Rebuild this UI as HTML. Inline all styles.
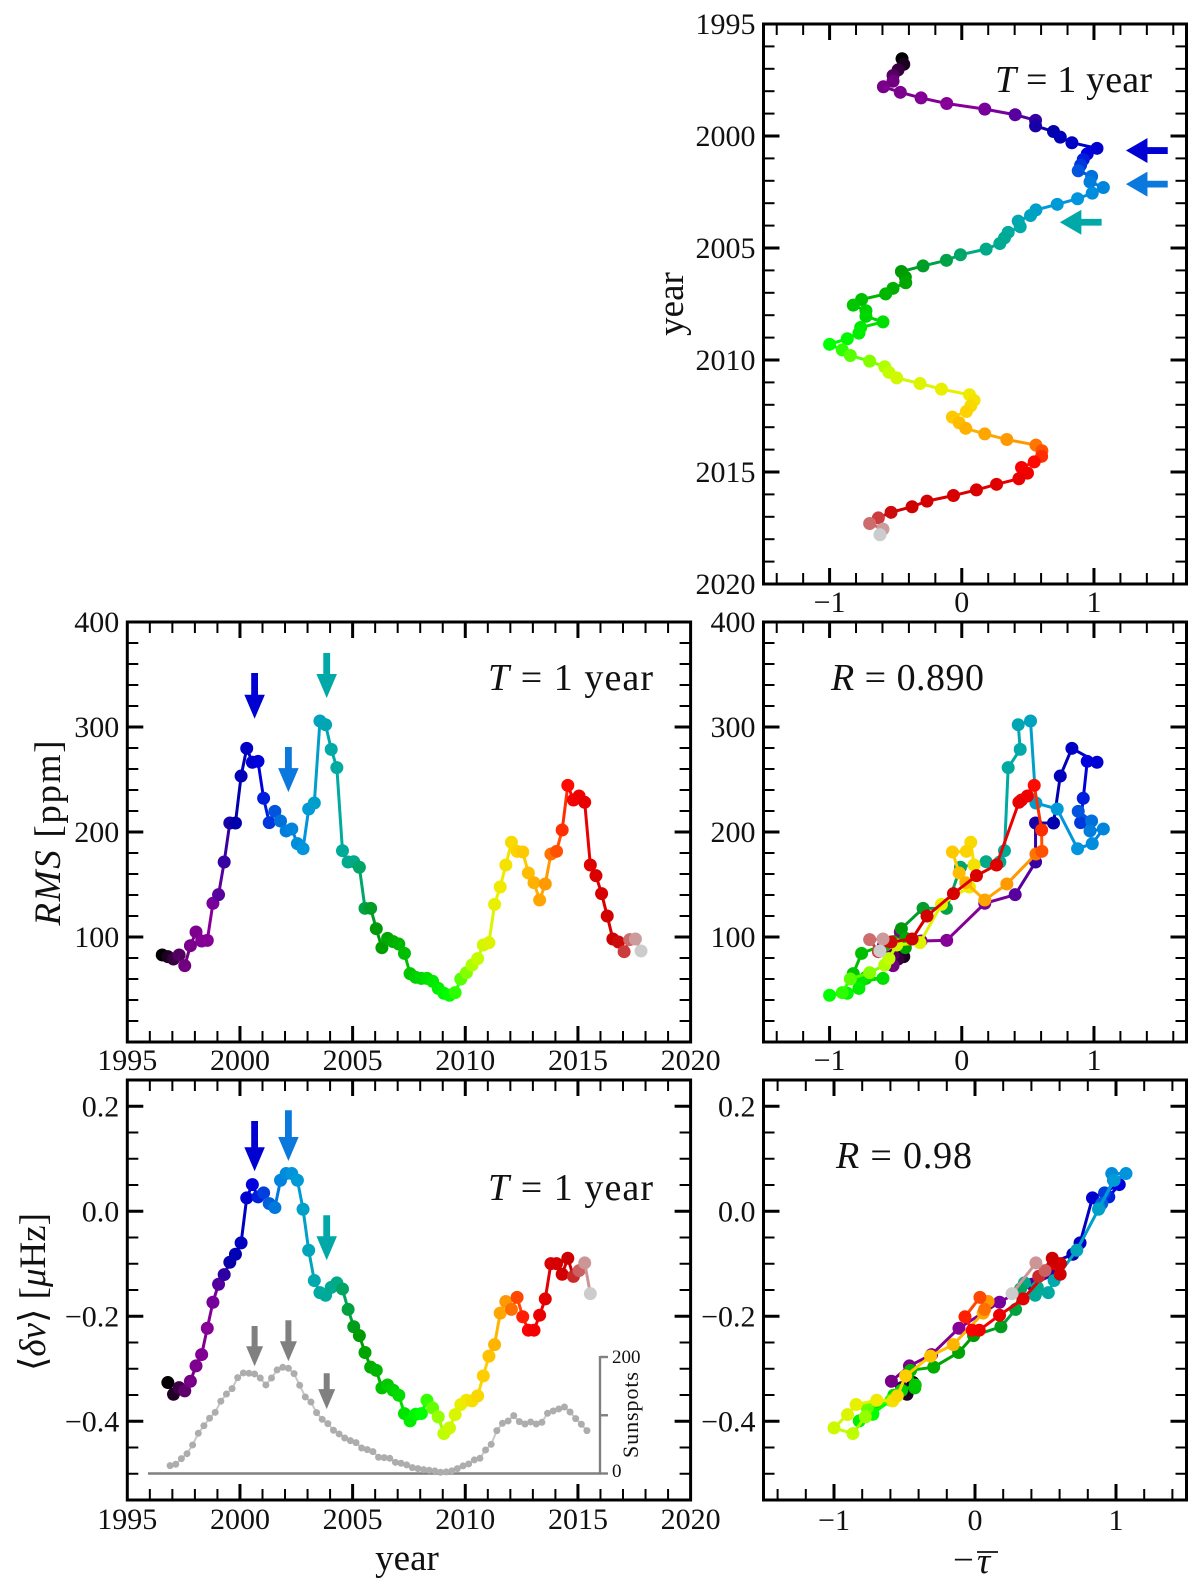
<!DOCTYPE html>
<html lang="en">
<head>
<meta charset="utf-8">
<title>Solar activity proxies versus year</title>
<style>
html,body{margin:0;padding:0;background:#fff;}
svg{display:block;}
text{font-family:"Liberation Serif","DejaVu Serif",serif;fill:#111;}
.tick{font-size:30px;}
.note{font-size:38px;}
.title{font-size:37px;}
.small{font-size:19px;}
</style>
</head>
<body>
<svg id="chart" xmlns="http://www.w3.org/2000/svg" width="1200" height="1591" viewBox="0 0 1200 1591">
  <rect x="0" y="0" width="1200" height="1591" fill="#ffffff"/>
  <g id="panel-tau-year"></g>
  <g id="panel-rms-year"></g>
  <g id="panel-rms-tau"></g>
  <g id="panel-nu-year"></g>
  <g id="panel-nu-tau"></g>

  <text class="title" text-anchor="middle" transform="translate(683,304) rotate(-90)">year</text>
  <text class="title" text-anchor="middle" textLength="185" transform="translate(60,833) rotate(-90)"><tspan font-style="italic">RMS</tspan> [ppm]</text>
  <text class="title" text-anchor="middle" textLength="158" transform="translate(45,1292) rotate(-90)">⟨<tspan font-style="italic">δν</tspan>⟩ [<tspan font-style="italic">μ</tspan>Hz]</text>
  <text class="title" text-anchor="middle" x="407" y="1570">year</text>
  <text class="title" x="953" y="1572">−</text>
  <text class="title" x="977" y="1573" font-style="italic">τ</text>
  <line x1="977" x2="998" y1="1552" y2="1552" stroke="#111" stroke-width="1.8"/>

  <text class="note" x="995" y="92" textLength="157"><tspan font-style="italic">T</tspan> = 1 year</text>
  <text class="note" x="488" y="690" textLength="165"><tspan font-style="italic">T</tspan> = 1 year</text>
  <text class="note" x="488" y="1200" textLength="165"><tspan font-style="italic">T</tspan> = 1 year</text>
  <text class="note" x="831" y="690" textLength="153"><tspan font-style="italic">R</tspan> = 0.890</text>
  <text class="note" x="836" y="1168" textLength="136"><tspan font-style="italic">R</tspan> = 0.98</text>

  <text class="small" x="612" y="1363">200</text>
  <text class="small" x="612" y="1477">0</text>
  <text class="small" text-anchor="middle" textLength="86" style="font-size:22px" transform="translate(638,1415) rotate(-90)">Sunspots</text>
</svg>
<script>
// ---- data ----
const seismicStartYear = 1996.55;
const frequencyStartYear = 1996.8;
const sunspotStartYear = 1996.9;
const sampleStep = 0.25;

const rmsValues = [82.9,81.3,79.0,82.9,72.7,91.7,104.8,96.2,96.8,132.1,140.3,171.4,208.6,208.6,253.3,279.7,266.4,267.3,232.1,208.9,219.7,210.5,201,202.9,188.9,184.1,221.9,227.6,305.7,302.2,278.7,261.3,182.2,171.4,171.7,166.4,127.3,127.3,107.9,89.8,98.7,95.6,93.3,84.4,65.1,61.6,60.6,60.6,57.8,51.1,46.4,44.5,47,60,66,73.3,79.4,92.4,94.6,131.1,147.6,168.6,190.2,181.6,181,161,151.7,135.2,150.5,179,181.6,201.9,244.4,230.5,234.3,228.3,168.6,158.4,141.3,120,98.1,95.2,86,97.5,98.1,86.7];

const tauValues = [-0.452,-0.439,-0.482,-0.52,-0.52,-0.593,-0.465,-0.308,-0.114,0.174,0.404,0.558,0.558,0.694,0.745,0.833,1.023,0.949,0.919,0.899,0.881,0.982,0.97,1.071,0.987,0.876,0.722,0.561,0.52,0.427,0.442,0.351,0.323,0.288,0.184,-0.01,-0.116,-0.293,-0.457,-0.427,-0.424,-0.52,-0.576,-0.758,-0.821,-0.725,-0.725,-0.596,-0.765,-0.778,-0.866,-1.0,-0.904,-0.843,-0.697,-0.583,-0.551,-0.492,-0.316,-0.154,0.058,0.093,0.068,0.035,-0.071,-0.02,0.03,0.174,0.341,0.561,0.606,0.604,0.548,0.452,0.497,0.432,0.263,0.111,-0.063,-0.263,-0.376,-0.535,-0.631,-0.697,-0.596,-0.619];

const frequencyShiftValues = [-0.3263,-0.3486,-0.3359,-0.3422,-0.3238,-0.2946,-0.273,-0.2228,-0.1733,-0.139,-0.1206,-0.0971,-0.0819,-0.0603,0.0254,0.0508,0.0273,0.035,0.0146,0.007,0.059,0.0718,0.0718,0.059,0.0038,-0.0743,-0.132,-0.155,-0.16,-0.145,-0.1365,-0.148,-0.187,-0.22,-0.237,-0.269,-0.297,-0.303,-0.3365,-0.331,-0.341,-0.3505,-0.3854,-0.3994,-0.3867,-0.3854,-0.36,-0.3746,-0.3917,-0.4235,-0.4127,-0.3873,-0.3682,-0.36,-0.3613,-0.3517,-0.3136,-0.276,-0.254,-0.194,-0.172,-0.187,-0.164,-0.201,-0.2266,-0.2266,-0.198,-0.167,-0.0997,-0.0997,-0.12,-0.0895,-0.124,-0.113,-0.0984,-0.157];

const sunspotValues = [13.5,15.8,25.5,34,49,69,82,94.8,105,124,136.5,145.7,164.6,172.6,172,170.9,164,152,164,177.8,182.3,180.6,171.4,151.4,131.4,122.8,104.5,93,85.6,74.2,67.9,61,56.4,53,43.8,41,37.6,27.8,27.3,26.1,19.2,17.5,14.7,10.1,8.4,6.7,5.5,4.4,2.1,2.7,4.4,8.4,13,16.4,23.3,26.1,40.4,50.1,73.6,86.2,90.2,99.4,89,85,88.5,85,87.9,103.4,107.4,110.8,114.2,105.6,94.2,84.5,73.6];

const eventYears = [2000.65,2002.15,2003.85];
const eventNames = ['first-peak','second-peak','third-peak'];
const rmsArrowTails = [351.4,281,370.5];
const rmsArrowTips = [307.9,238,327.6];
const nuArrowTails = [0.172,0.1924,-0.0076];
const nuArrowTips = [0.0762,0.0958,-0.0933];
const sunspotArrowTails = [-0.2185,-0.2076,-0.3086];
const sunspotArrowTips = [-0.2952,-0.2857,-0.377];
const tauArrowTips = [1.242,1.242,0.742];
const tauArrowTails = [1.558,1.558,1.058];

const yearTicks = [1995,2000,2005,2010,2015,2020];
const tauTicks = [-1,0,1];
const rmsTicks = [100,200,300,400];
const nuTicks = [-0.4,-0.2,0.0,0.2];

// ---- helpers ----
const NS = 'http://www.w3.org/2000/svg';
function mk(parent, tag, attrs){
  const el = document.createElementNS(NS, tag);
  for (const k in attrs) el.setAttribute(k, attrs[k]);
  parent.appendChild(el);
  return el;
}
function scale(d0,d1,r0,r1){ return v => r0 + (v-d0)*(r1-r0)/(d1-d0); }

const cmR=[0,.4667,.5333,0,0,0,0,0,0,0,0,0,0,.7333,.9333,1,1,1,.8667,.8,.8];
const cmG=[0,0,0,0,0,.4667,.6,.6667,.6667,.6,.7333,.8667,1,1,.9333,.8,.6,0,0,0,.8];
const cmB=[0,.5333,.6,.6667,.8667,.8667,.8667,.6667,.5333,0,0,0,0,0,0,0,0,0,0,0,.8];
function spectral(t){
  const p = Math.min(19.9999, Math.max(0, t*20)), k = Math.floor(p), f = p-k;
  const ch = a => Math.round(255*(a[k]+(a[k+1]-a[k])*f));
  return 'rgb('+ch(cmR)+','+ch(cmG)+','+ch(cmB)+')';
}
function fmtMinus(v, digits){
  const s = Math.abs(v).toFixed(digits);
  return (v<0?'−':'')+s;
}

function drawSeries(g, xs, ys, sx, sy){
  const n = Math.min(xs.length, ys.length);
  for (let i=0;i<n;i++){
    const c = spectral(i/(n-1));
    if (i<n-1){
      const seg = mk(g,'line',{x1:sx(xs[i]),y1:sy(ys[i]),x2:sx(xs[i+1]),y2:sy(ys[i+1]),stroke:c,'stroke-width':3});
      
      
    }
    const dot = mk(g,'circle',{cx:sx(xs[i]),cy:sy(ys[i]),r:6.5,fill:c});
    
    
  }
}

function drawFrame(g, box, sx, sy, opt){
  const {l,r,t,b} = box;
  const addTick = (x1,y1,x2,y2,major) => {
    const tk = mk(g,'line',{x1,y1,x2,y2,stroke:'#000','stroke-width':major?3:2});
    
    
  };
  const eps=1e-6;
  // x ticks
  for (let v=opt.xMinorStart; v<=opt.xMax+eps; v+=opt.xMinorStep){
    const major = opt.xTicks.some(m=>Math.abs(m-v)<1e-4);
    const x = sx(v); if (x<l+2 || x>r-2) continue;
    const len = major?16:11;
    addTick(x,b,x,b-len,major); addTick(x,t,x,t+len,major);
  }
  // y ticks
  for (let v=opt.yMinorStart; v<=opt.yMax+eps; v+=opt.yMinorStep){
    const major = opt.yTicks.some(m=>Math.abs(m-v)<1e-4);
    const y = sy(v); if (y<t+2 || y>b-2) continue;
    const len = major?16:11;
    addTick(l,y,l+len,y,major); addTick(r,y,r-len,y,major);
  }
  // tick labels
  opt.xTicks.forEach(v=>{
    const lab = mk(g,'text',{class:'tick',x:sx(v)+(opt.xLabelShift||0),y:b+(opt.xLabelDrop||28),'text-anchor':'middle'});
    
    
    lab.textContent = fmtMinus(v,0);
  });
  opt.yTicks.forEach(v=>{
    const lab = mk(g,'text',{class:'tick',x:l-8,y:sy(v)+10,'text-anchor':'end'});
    
    
    lab.textContent = fmtMinus(v,opt.yDigits||0);
  });
  // spines
  const frame = mk(g,'rect',{x:l,y:t,width:r-l,height:b-t,fill:'none',stroke:'#000','stroke-width':3});
  
  
}

function downArrow(g, x, yTail, yTip, color, headW, shaftW, headL, name){
  const pts = [[x-shaftW/2,yTail],[x+shaftW/2,yTail],[x+shaftW/2,yTip-headL],[x+headW/2,yTip-headL],[x,yTip],[x-headW/2,yTip-headL],[x-shaftW/2,yTip-headL]];
  const a = mk(g,'polygon',{points:pts.map(p=>p.join(',')).join(' '),fill:color});
  
  
}
function leftArrow(g, xTip, xTail, y, color, name){
  const headL=21.5, headW=25, shaftW=6.8;
  const pts = [[xTail,y-shaftW/2],[xTail,y+shaftW/2],[xTip+headL,y+shaftW/2],[xTip+headL,y+headW/2],[xTip,y],[xTip+headL,y-headW/2],[xTip+headL,y-shaftW/2]];
  const a = mk(g,'polygon',{points:pts.map(p=>p.join(',')).join(' '),fill:color});
  
  
}

// ---- layout ----
const leftCol = {l:127.3,r:690.6};
const rightCol = {l:763.5,r:1186.5};
const rowTop = {t:24,b:584};
const rowMid = {t:622,b:1042};
const rowBot = {t:1080,b:1500};
const arrowColors = ['#0000d2','#0a78dc','#00a8a8'];

const seismicYears = rmsValues.map((_,i)=>seismicStartYear+i*sampleStep);
const frequencyYears = frequencyShiftValues.map((_,i)=>frequencyStartYear+i*sampleStep);
const sunspotYears = sunspotValues.map((_,i)=>sunspotStartYear+i*sampleStep);
const tauForFrequency = frequencyShiftValues.map((_,i)=>tauValues[i+1]);

const yearAxis = {xMinorStart:1995,xMinorStep:1,xMax:2020,xTicks:yearTicks};
const tauAxis = {xMinorStart:-1.4,xMinorStep:0.2,xTicks:tauTicks};
const rmsAxis = {yMinorStart:20,yMinorStep:20,yMax:400,yTicks:rmsTicks};
const nuAxis = {yMinorStart:-0.5,yMinorStep:0.05,yMax:0.25,yTicks:nuTicks,yDigits:1};

// tau vs year
(function(){
  const g = document.getElementById('panel-tau-year');
  const box = {...rightCol,...rowTop};
  const sx = scale(-1.5,1.7,box.l,box.r), sy = scale(1995,2020,box.t,box.b);
  drawSeries(g,tauValues,seismicYears,sx,sy);
  eventYears.forEach((yr,i)=>leftArrow(g,sx(tauArrowTips[i]),sx(tauArrowTails[i]),sy(yr),arrowColors[i],'tau-arrow-'+eventNames[i]));
  drawFrame(g,box,sx,sy,{...tauAxis,xMax:1.7,yMinorStart:1995,yMinorStep:1,yMax:2020,yTicks:yearTicks});
})();

// rms vs year
(function(){
  const g = document.getElementById('panel-rms-year');
  const box = {...leftCol,...rowMid};
  const sx = scale(1995,2020,box.l,box.r), sy = scale(0,400,box.b,box.t);
  drawSeries(g,seismicYears,rmsValues,sx,sy);
  eventYears.forEach((yr,i)=>downArrow(g,sx(yr),sy(rmsArrowTails[i]),sy(rmsArrowTips[i]),arrowColors[i],20.5,6.8,24,'rms-arrow-'+eventNames[i]));
  drawFrame(g,box,sx,sy,{...yearAxis,...rmsAxis});
})();

// rms vs tau
(function(){
  const g = document.getElementById('panel-rms-tau');
  const box = {...rightCol,...rowMid};
  const sx = scale(-1.5,1.7,box.l,box.r), sy = scale(0,400,box.b,box.t);
  drawSeries(g,tauValues,rmsValues,sx,sy);
  drawFrame(g,box,sx,sy,{...tauAxis,xMax:1.7,...rmsAxis});
})();

// frequency shift vs year
(function(){
  const g = document.getElementById('panel-nu-year');
  const box = {...leftCol,...rowBot};
  const sx = scale(1995,2020,box.l,box.r), sy = scale(-0.55,0.25,box.b,box.t);
  // sunspot inset
  const spotY = scale(0,200,1473.5,1357);
  const baseline = mk(g,'line',{x1:148,x2:sx(2015.85)+4,y1:spotY(0),y2:spotY(0),stroke:'#808080','stroke-width':2.4});
  
  
  const spotAxis = mk(g,'line',{x1:600,x2:600,y1:spotY(200)-1,y2:spotY(0),stroke:'#808080','stroke-width':2.4});
  
  
  [0,100,200].forEach(v=>{
    const tk = mk(g,'line',{x1:600,x2:608,y1:spotY(v),y2:spotY(v),stroke:'#808080','stroke-width':2.4});
    
    
  });
  const spotLine = mk(g,'polyline',{points:sunspotValues.map((v,i)=>sx(sunspotYears[i])+','+spotY(v)).join(' '),fill:'none',stroke:'#c8c8c8','stroke-width':2});
  
  
  sunspotValues.forEach((v,i)=>{
    const d = mk(g,'circle',{cx:sx(sunspotYears[i]),cy:spotY(v),r:3.5,fill:'#adadad'});
    
    
  });
  drawSeries(g,frequencyYears,frequencyShiftValues,sx,sy);
  eventYears.forEach((yr,i)=>downArrow(g,sx(yr),sy(nuArrowTails[i]),sy(nuArrowTips[i]),arrowColors[i],20.5,6.8,24,'frequency-arrow-'+eventNames[i]));
  eventYears.forEach((yr,i)=>downArrow(g,sx(yr),sy(sunspotArrowTails[i]),sy(sunspotArrowTips[i]),'#808080',17,6,20,'sunspot-arrow-'+eventNames[i]));
  drawFrame(g,box,sx,sy,{...yearAxis,...nuAxis,xLabelDrop:29});
})();

// frequency shift vs tau
(function(){
  const g = document.getElementById('panel-nu-tau');
  const box = {...rightCol,...rowBot};
  const sx = scale(-1.5,1.5,box.l,box.r), sy = scale(-0.55,0.25,box.b,box.t);
  drawSeries(g,tauForFrequency,frequencyShiftValues,sx,sy);
  drawFrame(g,box,sx,sy,{...tauAxis,xMax:1.5,...nuAxis,xLabelDrop:30});
})();
</script>
</body>
</html>
